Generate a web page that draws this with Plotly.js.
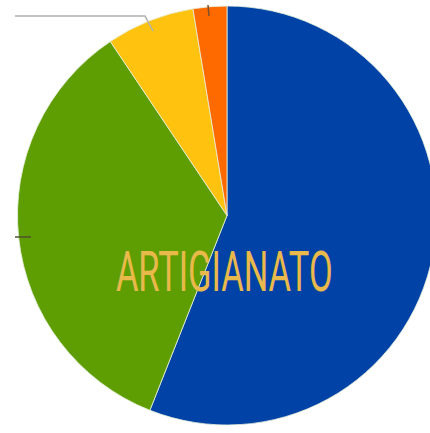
<!DOCTYPE html>
<html>
<head>
<meta charset="utf-8">
<script src="https://cdn.plot.ly/plotly-3.0.1.min.js"></script>
<style>
  html, body { margin: 0; padding: 0; overflow: hidden; background: #fff; }
  #chart { width: 454px; height: 433px; }
</style>
</head>
<body>
<div id="chart"></div>
<script>
const categories = ["Blu", "Verde", "Giallo", "Arancione"];
const values = [56.0, 34.6, 6.8, 2.6];
const title = "ARTIGIANATO";

const sliceColors = ["#0042A6", "#5E9E02", "#FFC20E", "#FF6A00"];
const W = 454, H = 433;
const px = x => x / W, py = y => 1 - y / H;

const data = [{
  type: "pie",
  labels: categories,
  values: values,
  sort: false,
  direction: "clockwise",
  rotation: 0,
  textinfo: "none",
  hoverinfo: "label+percent",
  marker: { colors: sliceColors, line: { color: "rgba(230,240,220,0.8)", width: 1 } },
  domain: { x: [0, 1], y: [py(425), py(6)] }
}];

const lineStyle = c => ({ color: c, width: 1.5 });
const layout = {
  width: W, height: H,
  margin: { l: 0, r: 0, t: 0, b: 0 },
  paper_bgcolor: "#ffffff",
  showlegend: false,
  shapes: [
    { type: "path", xref: "paper", yref: "paper",
      path: `M ${px(15)} ${py(16)} L ${px(145)} ${py(16)} L ${px(153)} ${py(31)}`,
      line: lineStyle("#b0b0b0") },
    { type: "line", xref: "paper", yref: "paper", x0: px(208), y0: py(5), x1: px(209), y1: py(16),
      line: lineStyle("#7a5030") },
    { type: "line", xref: "paper", yref: "paper", x0: px(15), y0: py(237), x1: px(31), y1: py(237),
      line: lineStyle("#505030") }
  ],
  annotations: [{
    xref: "paper", yref: "paper", x: px(224.5), y: py(272),
    xanchor: "center", yanchor: "middle", showarrow: false,
    text: title,
    font: { family: "Roboto, 'DejaVu Sans', sans-serif", size: 56, color: "#E9B94B", weight: 400 }
  }]
};

Plotly.newPlot("chart", data, layout, { displayModeBar: false, staticPlot: true }).then(() => {
  document.querySelectorAll(".annotation-text").forEach(t => {
    t.style.transformBox = "fill-box";
    t.style.transformOrigin = "center";
    t.style.transform = "scaleX(0.615)";
  });
});
</script>
</body>
</html>
